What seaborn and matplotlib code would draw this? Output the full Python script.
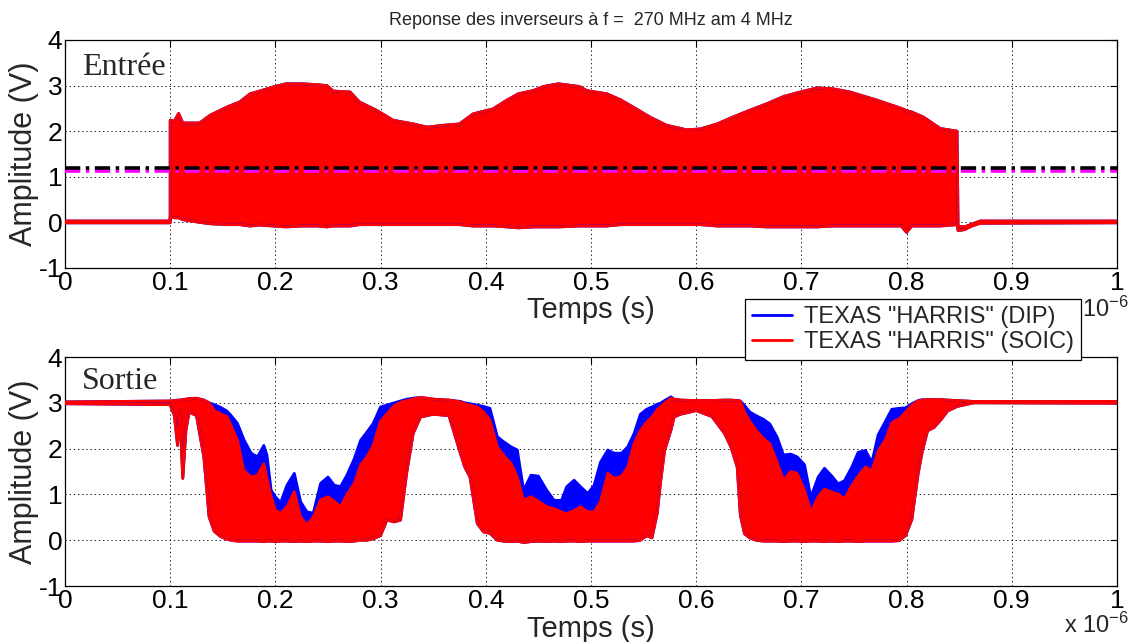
import matplotlib
matplotlib.use("Agg")
import matplotlib.pyplot as plt
import seaborn as sns

# time axis in microseconds (the axis carries the "x 10^-6" factor)
# input signal envelope (same drive for both inverters)
t_in = [0.0, 0.1, 0.1, 0.104, 0.108, 0.112, 0.128, 0.138, 0.154, 0.166,
        0.176, 0.185, 0.198, 0.21, 0.225, 0.24, 0.249, 0.255, 0.271, 0.28,
        0.296, 0.312, 0.331, 0.344, 0.36, 0.375, 0.388, 0.407, 0.42, 0.431,
        0.445, 0.455, 0.469, 0.489, 0.496, 0.515, 0.528, 0.54, 0.556, 0.572,
        0.591, 0.604, 0.62, 0.635, 0.651, 0.667, 0.683, 0.699, 0.715, 0.73,
        0.746, 0.762, 0.772, 0.795, 0.8, 0.805, 0.816, 0.832, 0.848, 0.849,
        0.855, 0.862, 0.87, 1.0]
in_hi = [0.03, 0.03, 2.24, 2.22, 2.39, 2.18, 2.18, 2.35, 2.53, 2.64,
         2.82, 2.88, 2.97, 3.04, 3.04, 3.02, 3.0, 2.88, 2.86, 2.64,
         2.46, 2.24, 2.16, 2.09, 2.13, 2.16, 2.38, 2.49, 2.68, 2.82,
         2.89, 2.98, 3.04, 2.98, 2.89, 2.82, 2.69, 2.53, 2.31, 2.13,
         2.03, 2.05, 2.16, 2.31, 2.46, 2.6, 2.76, 2.86, 2.95, 2.93,
         2.86, 2.75, 2.68, 2.5, 2.45, 2.42, 2.31, 2.06, 2.0, -0.08,
         -0.1, -0.04, 0.03, 0.03]
in_lo = [-0.01, -0.01, 0.12, 0.1, 0.1, 0.06, 0.0, -0.03, -0.05, -0.05,
         -0.08, -0.06, -0.08, -0.1, -0.08, -0.08, -0.1, -0.08, -0.08, -0.05,
         -0.05, -0.05, -0.05, -0.05, -0.05, -0.05, -0.08, -0.08, -0.1, -0.12,
         -0.1, -0.1, -0.1, -0.08, -0.08, -0.08, -0.05, -0.05, -0.05, -0.05,
         -0.05, -0.05, -0.08, -0.08, -0.08, -0.1, -0.1, -0.1, -0.1, -0.08,
         -0.08, -0.08, -0.08, -0.08, -0.22, -0.08, -0.08, -0.08, -0.05, -0.18,
         -0.16, -0.08, -0.02, -0.01]
thr_black = 1.19
thr_magenta = 1.12

# output signal envelopes
t_out = [0.0, 0.1, 0.104, 0.107, 0.109, 0.112, 0.115, 0.118, 0.125, 0.132,
         0.137, 0.142, 0.148, 0.154, 0.158, 0.164, 0.17, 0.177, 0.183, 0.189,
         0.192, 0.196, 0.2, 0.205, 0.211, 0.218, 0.224, 0.23, 0.236, 0.243,
         0.25, 0.256, 0.262, 0.268, 0.275, 0.281, 0.287, 0.293, 0.3, 0.306,
         0.313, 0.319, 0.325, 0.331, 0.338, 0.35, 0.365, 0.376, 0.38, 0.385,
         0.392, 0.398, 0.404, 0.411, 0.417, 0.424, 0.43, 0.436, 0.443, 0.45,
         0.458, 0.465, 0.472, 0.477, 0.484, 0.49, 0.497, 0.503, 0.509, 0.516,
         0.522, 0.529, 0.535, 0.541, 0.547, 0.553, 0.558, 0.563, 0.566, 0.57,
         0.576, 0.579, 0.585, 0.6, 0.615, 0.627, 0.633, 0.639, 0.642, 0.646,
         0.651, 0.657, 0.664, 0.67, 0.677, 0.683, 0.69, 0.696, 0.703, 0.709,
         0.716, 0.722, 0.729, 0.735, 0.741, 0.748, 0.754, 0.761, 0.767, 0.773,
         0.78, 0.786, 0.793, 0.799, 0.805, 0.811, 0.815, 0.82, 0.826, 0.833,
         0.839, 0.848, 0.864, 1.0]
out_dip_hi = [3.02, 3.04, 3.05, 3.06, 3.06, 3.07, 3.08, 3.09, 3.1, 3.06,
              3.0, 2.96, 2.9, 2.82, 2.72, 2.55, 2.2, 1.9, 1.82, 2.07,
              1.86, 1.09, 0.95, 0.82, 1.2, 1.46, 0.84, 0.62, 0.59, 1.24,
              1.38, 1.2, 1.17, 1.42, 1.78, 2.18, 2.36, 2.55, 2.91, 2.95,
              3.0, 3.04, 3.08, 3.1, 3.12, 3.08, 3.06, 3.03, 3.0, 2.98,
              2.95, 2.92, 2.88, 2.26, 2.15, 2.04, 1.97, 1.09, 1.42, 1.4,
              1.09, 0.87, 0.87, 1.17, 1.31, 1.17, 1.02, 1.2, 1.7, 1.97,
              1.9, 1.9, 2.04, 2.33, 2.75, 2.86, 2.91, 2.97, 2.99, 3.05,
              3.13, 3.08, 3.06, 3.05, 3.05, 3.06, 3.06, 3.05, 3.04, 2.94,
              2.8, 2.72, 2.64, 2.54, 2.25, 1.86, 1.88, 1.82, 1.65, 0.94,
              1.38, 1.57, 1.4, 1.23, 1.3, 1.6, 1.92, 1.96, 1.7, 2.3,
              2.6, 2.86, 2.88, 2.89, 2.98, 3.05, 3.07, 3.07, 3.07, 3.07,
              3.06, 3.05, 3.03, 3.03]
out_soic_hi = [3.02, 3.04, 3.05, 3.05, 3.06, 3.07, 3.08, 3.09, 3.1, 3.06,
               3.0, 2.83, 2.76, 2.7, 2.5, 2.18, 1.53, 1.38, 1.42, 1.67,
               1.35, 0.95, 0.66, 0.59, 0.73, 1.06, 0.51, 0.33, 0.51, 0.88,
               0.95, 0.85, 0.73, 1.0, 1.24, 1.64, 1.82, 2.07, 2.6, 2.76,
               2.94, 3.01, 3.05, 3.08, 3.12, 3.08, 3.06, 3.02, 2.98, 2.95,
               2.91, 2.8, 2.62, 2.04, 1.85, 1.68, 1.38, 0.87, 0.95, 0.85,
               0.73, 0.69, 0.62, 0.58, 0.65, 0.73, 0.62, 0.62, 0.84, 1.46,
               1.35, 1.4, 1.6, 2.11, 2.4, 2.58, 2.69, 2.85, 2.91, 3.0,
               3.1, 3.08, 3.06, 3.05, 3.05, 3.06, 3.06, 3.05, 3.04, 2.8,
               2.6, 2.4, 2.22, 2.11, 1.7, 1.31, 1.5, 1.46, 1.09, 0.62,
               0.95, 1.12, 1.05, 1.01, 0.9, 1.2, 1.4, 1.6, 1.52, 1.95,
               2.2, 2.57, 2.65, 2.8, 2.95, 3.04, 3.06, 3.07, 3.07, 3.07,
               3.06, 3.05, 3.03, 3.03]
out_lo = [2.98, 2.96, 2.72, 2.07, 2.85, 1.35, 2.4, 2.8, 2.72, 1.82,
          0.51, 0.19, 0.08, 0.02, 0.0, -0.02, -0.02, -0.02, -0.02, -0.03,
          -0.02, -0.02, -0.03, -0.02, -0.02, -0.03, -0.02, -0.03, -0.02, -0.02,
          -0.03, -0.02, -0.02, -0.03, -0.02, 0.0, 0.0, 0.03, 0.1, 0.44,
          0.4, 0.44, 1.5, 2.33, 2.69, 2.75, 2.72, 1.89, 1.6, 1.38,
          0.36, 0.18, 0.15, 0.0, -0.02, -0.03, -0.02, -0.05, -0.03, -0.02,
          -0.03, -0.02, -0.03, -0.02, -0.02, -0.03, -0.02, -0.02, -0.02, -0.02,
          -0.02, -0.02, -0.02, -0.02, 0.0, 0.1, 0.05, 0.59, 1.24, 1.96,
          2.4, 2.69, 2.75, 2.83, 2.7, 2.33, 2.04, 1.6, 0.55, 0.14,
          0.05, 0.0, -0.02, -0.02, -0.02, -0.03, -0.02, -0.02, -0.03, -0.02,
          -0.02, -0.03, -0.02, -0.03, -0.02, -0.02, -0.03, -0.02, -0.02, -0.02,
          -0.02, -0.02, -0.01, 0.1, 0.45, 1.45, 1.95, 2.39, 2.46, 2.64,
          2.82, 2.92, 3.0, 2.99]

x_ticks = [0, 0.1, 0.2, 0.3, 0.4, 0.5, 0.6, 0.7, 0.8, 0.9, 1]
x_tick_labels = ["0", "0.1", "0.2", "0.3", "0.4", "0.5", "0.6", "0.7", "0.8", "0.9", "1"]
y_ticks = [-1, 0, 1, 2, 3, 4]
series_labels = ['TEXAS "HARRIS" (DIP)', 'TEXAS "HARRIS" (SOIC)']

BLUE = "#0000ff"
RED = "#ff0000"

sns.set_style("white")
plt.rcParams.update({
    "axes.unicode_minus": False,
    "lines.scale_dashes": False,
    "mathtext.fontset": "custom",
    "mathtext.rm": "Liberation Sans",
    "mathtext.it": "Liberation Sans",
})
plt.rcParams["font.family"] = ["Liberation Sans", "DejaVu Sans"]

fig = plt.figure(figsize=(11.32, 6.42), dpi=100)
ax_in = fig.add_axes([0.0574, 0.5826, 0.9293, 0.3551])
ax_out = fig.add_axes([0.0574, 0.0872, 0.9293, 0.3567])


def draw_band(ax, t, lo, hi, color):
    ax.fill_between(t, lo, hi, color=color, lw=0, zorder=2)
    sns.lineplot(x=t, y=hi, ax=ax, color=color, lw=2, estimator=None, sort=False, zorder=3)
    sns.lineplot(x=t, y=lo, ax=ax, color=color, lw=2, estimator=None, sort=False, zorder=3)


# top panel: input
draw_band(ax_in, t_in, in_lo, in_hi, BLUE)
draw_band(ax_in, t_in, in_lo, in_hi, RED)
ax_in.axhline(thr_magenta, color="magenta", lw=2.6, dashes=(11, 4, 2.5, 4), zorder=4)
ax_in.axhline(thr_black, color="black", lw=2.6, dashes=(11, 4, 2.5, 4), zorder=5)

# bottom panel: output
draw_band(ax_out, t_out, out_lo, out_dip_hi, BLUE)
draw_band(ax_out, t_out, out_lo, out_soic_hi, RED)

for ax, name, ny in [(ax_in, "Entrée", 0.846), (ax_out, "Sortie", 0.86)]:
    ax.set_xlim(0, 1)
    ax.set_ylim(-1, 4)
    ax.set_xticks(x_ticks)
    ax.set_xticklabels(x_tick_labels)
    ax.set_yticks(y_ticks)
    ax.tick_params(direction="in", top=True, right=True, length=5, width=0.8,
                   labelsize=19, pad=2, colors="black")
    ax.grid(True, color="black", linestyle=(0, (1, 2)), lw=0.6)
    for sp in ax.spines.values():
        sp.set_color("black")
        sp.set_linewidth(0.9)
    ax.set_xlabel("Temps (s)", fontsize=21)
    ax.set_ylabel("Amplitude (V)", fontsize=22)
    ax.xaxis.set_label_coords(0.5, -0.125)
    ax.yaxis.set_label_coords(-0.025, 0.5)
    ax.text(0.016, ny, name, transform=ax.transAxes, fontsize=23,
            family=["Liberation Serif"], va="baseline", zorder=6)
    ax.set_axisbelow(True)

ax_in.set_title("Reponse des inverseurs à f =  270 MHz am 4 MHz", fontsize=13, pad=11)

fig.text(1129 / 1132, 1 - 317 / 642, r"x 10$^{-6}$", ha="right", va="baseline", fontsize=17, zorder=1)
fig.text(1129 / 1132, 1 - 633 / 642, r"x 10$^{-6}$", ha="right", va="baseline", fontsize=17, zorder=1)

handles = [plt.Line2D([], [], color=BLUE, lw=2), plt.Line2D([], [], color=RED, lw=2)]
leg = fig.legend(handles, series_labels, loc="upper left",
                 bbox_to_anchor=(745 / 1132, 1 - 299 / 642), fontsize=17,
                 frameon=True, fancybox=False, edgecolor="black", framealpha=1,
                 borderpad=0.3, labelspacing=0.12, handlelength=1.7,
                 handletextpad=0.5, borderaxespad=0)
leg.get_frame().set_linewidth(0.9)
leg.set_zorder(10)

fig.savefig("out.png", dpi=100)
